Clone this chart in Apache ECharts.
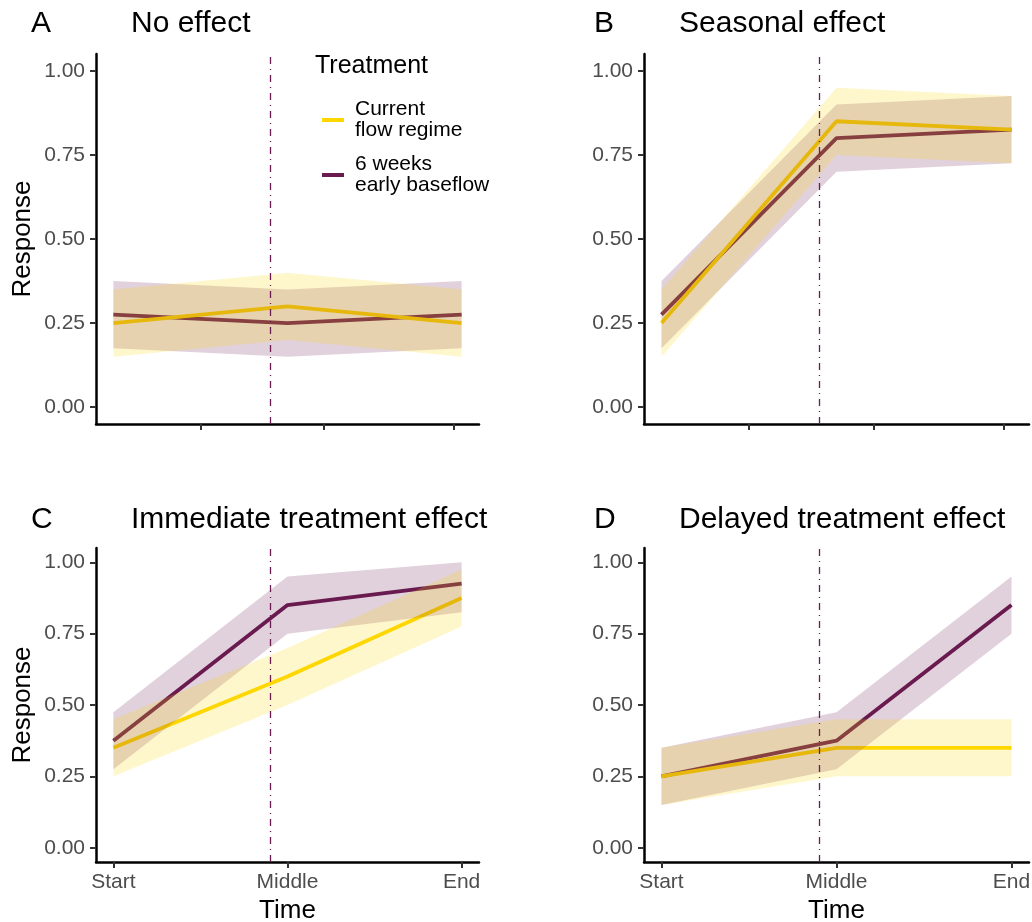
<!DOCTYPE html>
<html>
<head>
<meta charset="utf-8">
<script src="https://cdn.jsdelivr.net/npm/echarts@6/dist/echarts.min.js"></script>
<style>
  html, body { margin: 0; padding: 0; background: #fff; }
  #chart { width: 1032px; height: 922px; }
</style>
</head>
<body>
<div id="chart"></div>
<script>
// x positions: Start=0, Middle=1, End=2
var timeLabels = ['Start', 'Middle', 'End'];
var timePos = [0, 1, 2];
var treatmentStart = 0.9;
var topTickPos = [0.5, 1.21, 1.955];
var yTicks = [0, 0.25, 0.5, 0.75, 1];
var treatments = ['Current flow regime', '6 weeks early baseflow'];
var panelLetters = ['A', 'B', 'C', 'D'];
var panelTitles = ['No effect', 'Seasonal effect', 'Immediate treatment effect', 'Delayed treatment effect'];

// A - no effect
var noEffectCurrent = [0.25, 0.30, 0.25];
var noEffectCurrentLo = [0.15, 0.20, 0.15];
var noEffectCurrentHi = [0.35, 0.40, 0.35];
var noEffectEarly = [0.275, 0.25, 0.275];
var noEffectEarlyLo = [0.175, 0.15, 0.175];
var noEffectEarlyHi = [0.375, 0.35, 0.375];
// B - seasonal
var seasonalCurrent = [0.25, 0.85, 0.825];
var seasonalCurrentLo = [0.15, 0.75, 0.725];
var seasonalCurrentHi = [0.35, 0.95, 0.925];
var seasonalEarly = [0.275, 0.80, 0.825];
var seasonalEarlyLo = [0.175, 0.70, 0.725];
var seasonalEarlyHi = [0.375, 0.90, 0.925];
// C - immediate
var immediateCurrent = [0.35, 0.60, 0.875];
var immediateCurrentLo = [0.25, 0.50, 0.775];
var immediateCurrentHi = [0.45, 0.70, 0.975];
var immediateEarly = [0.375, 0.85, 0.925];
var immediateEarlyLo = [0.275, 0.75, 0.825];
var immediateEarlyHi = [0.475, 0.95, 1.00];
// D - delayed
var delayedCurrent = [0.25, 0.35, 0.35];
var delayedCurrentLo = [0.15, 0.25, 0.25];
var delayedCurrentHi = [0.35, 0.45, 0.45];
var delayedEarly = [0.25, 0.375, 0.85];
var delayedEarlyLo = [0.15, 0.275, 0.75];
var delayedEarlyHi = [0.35, 0.475, 0.95];

var panels = [
  {cur: noEffectCurrent, curLo: noEffectCurrentLo, curHi: noEffectCurrentHi, early: noEffectEarly, earlyLo: noEffectEarlyLo, earlyHi: noEffectEarlyHi},
  {cur: seasonalCurrent, curLo: seasonalCurrentLo, curHi: seasonalCurrentHi, early: seasonalEarly, earlyLo: seasonalEarlyLo, earlyHi: seasonalEarlyHi},
  {cur: immediateCurrent, curLo: immediateCurrentLo, curHi: immediateCurrentHi, early: immediateEarly, earlyLo: immediateEarlyLo, earlyHi: immediateEarlyHi},
  {cur: delayedCurrent, curLo: delayedCurrentLo, curHi: delayedCurrentHi, early: delayedEarly, earlyLo: delayedEarlyLo, earlyHi: delayedEarlyHi}
];

var GOLD = '#FFD700';
var PURPLE = '#6A1B4F';
var FONT = '"Liberation Sans", Arial, Helvetica, sans-serif';

var grids = [
  {left: 96, top: 54, width: 383, height: 370, outerBoundsMode: 'none'},
  {left: 644, top: 54, width: 385, height: 370, outerBoundsMode: 'none'},
  {left: 96, top: 548, width: 383, height: 314, outerBoundsMode: 'none'},
  {left: 644, top: 548, width: 385, height: 314, outerBoundsMode: 'none'}
];

function pts(vals) {
  return timePos.map(function (x, i) { return [x, vals[i]]; });
}

// ribbon drawn as one polygon through the grid's own coord system
function ribbon(k, lo, hi, color) {
  return {
    type: 'custom', xAxisIndex: k, yAxisIndex: k, z: 3, silent: true,
    data: pts(lo), encode: {x: 0, y: 1},
    renderItem: function (params, api) {
      if (params.dataIndex !== 0) return;
      var poly = [];
      timePos.forEach(function (x, i) { poly.push(api.coord([x, lo[i]])); });
      for (var i = timePos.length - 1; i >= 0; i--) poly.push(api.coord([timePos[i], hi[i]]));
      return {type: 'polygon', shape: {points: poly}, style: {fill: color, opacity: 0.2}};
    }
  };
}

var xAxes = [], yAxes = [], series = [], graphics = [];

grids.forEach(function (g, k) {
  var bottom = k >= 2;
  var left = k % 2 === 0;
  xAxes.push({
    type: 'value', gridIndex: k, min: -0.1, max: 2.1,
    name: bottom ? 'Time' : '', nameLocation: 'middle', nameGap: 36,
    nameTextStyle: {fontSize: 26, color: '#000', fontFamily: FONT},
    splitLine: {show: false},
    axisLine: {onZero: false, lineStyle: {color: '#000', width: 2.5}},
    axisTick: {show: true, length: 6, lineStyle: {color: '#333', width: 2},
      customValues: bottom ? timePos : topTickPos},
    axisLabel: {show: bottom, customValues: timePos, margin: 10,
      fontSize: 21, color: '#4D4D4D', fontFamily: FONT,
      formatter: function (v) { return timeLabels[Math.round(v)]; }}
  });
  yAxes.push({
    type: 'value', gridIndex: k, min: -0.05, max: 1.05,
    name: left ? 'Response' : '', nameLocation: 'middle', nameGap: 60,
    nameTextStyle: {fontSize: 26, color: '#000', fontFamily: FONT},
    splitLine: {show: false},
    axisLine: {show: true, onZero: false, lineStyle: {color: '#000', width: 2.5}},
    axisTick: {show: true, length: 6, lineStyle: {color: '#333', width: 2}, customValues: yTicks},
    axisLabel: {customValues: yTicks, margin: 11, fontSize: 21, color: '#4D4D4D', fontFamily: FONT,
      formatter: function (v) { return v.toFixed(2); }}
  });

  var p = panels[k];
  // mean lines sit under the ribbons
  series.push({
    name: treatments[1], type: 'line', xAxisIndex: k, yAxisIndex: k, z: 2,
    data: pts(p.early), showSymbol: false, color: PURPLE,
    lineStyle: {width: 3.8, color: PURPLE}, silent: true,
    markLine: {silent: true, symbol: 'none', label: {show: false},
      lineStyle: {type: [7, 5, 1, 5], color: PURPLE, width: 1.3},
      data: [{xAxis: treatmentStart}]}
  });
  series.push({
    name: treatments[0], type: 'line', xAxisIndex: k, yAxisIndex: k, z: 2,
    data: pts(p.cur), showSymbol: false, color: GOLD,
    lineStyle: {width: 3.8, color: GOLD}, silent: true
  });
  series.push(ribbon(k, p.earlyLo, p.earlyHi, PURPLE));
  series.push(ribbon(k, p.curLo, p.curHi, GOLD));

  graphics.push({type: 'text', left: left ? 31 : 594, top: bottom ? 505 : 9,
    style: {text: panelLetters[k], font: '30px ' + FONT, fill: '#000'}});
  graphics.push({type: 'text', left: left ? 131 : 679, top: bottom ? 505 : 9,
    style: {text: panelTitles[k], font: '30px ' + FONT, fill: '#000'}});
});

graphics.push({type: 'text', left: 315, top: 54,
  style: {text: 'Treatment', font: '25px ' + FONT, fill: '#000'}});

var chart = echarts.init(document.getElementById('chart'));
chart.setOption({
  animation: false,
  backgroundColor: '#fff',
  grid: grids,
  xAxis: xAxes,
  yAxis: yAxes,
  legend: {
    data: treatments, orient: 'vertical', left: 317, top: 94,
    icon: 'rect', itemWidth: 22, itemHeight: 4, itemGap: 13, selectedMode: false,
    textStyle: {fontSize: 21, lineHeight: 21, color: '#000', fontFamily: FONT, padding: [0, 0, 0, 6]},
    formatter: function (n) { return n === treatments[0] ? 'Current\nflow regime' : '6 weeks\nearly baseflow'; }
  },
  graphic: graphics,
  series: series
});
</script>
</body>
</html>
